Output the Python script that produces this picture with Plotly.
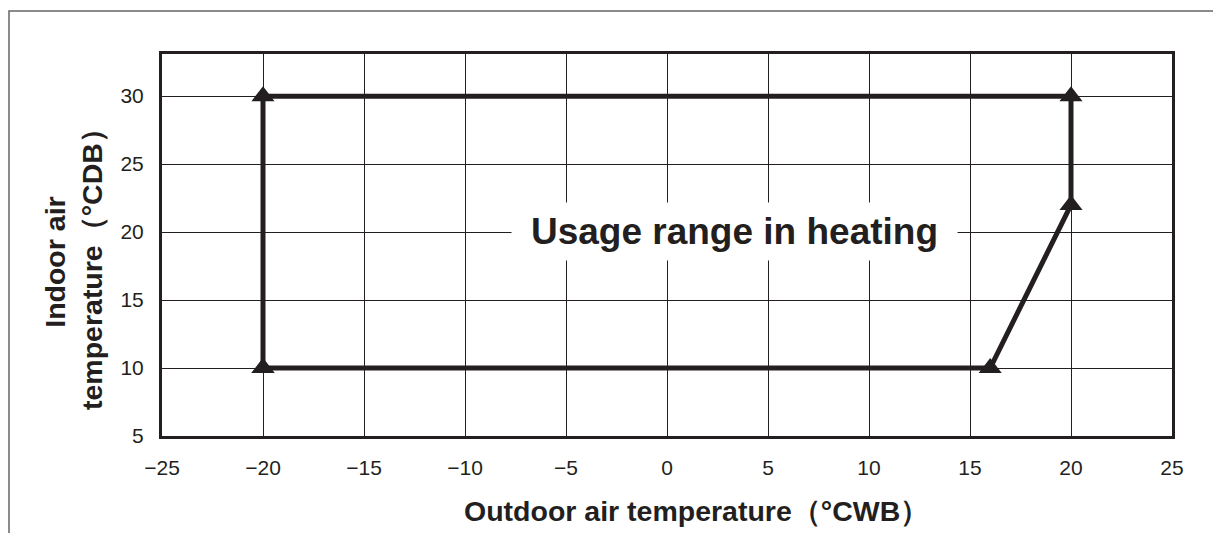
import plotly.graph_objects as go

# Operating envelope (heating) vertices, traced as a closed outline
outdoor_wb = [-20, -20, 20, 20, 16, -20]
indoor_db = [10, 30, 30, 22, 10, 10]

x_ticks = [-25, -20, -15, -10, -5, 0, 5, 10, 15, 20, 25]
y_ticks = [5, 10, 15, 20, 25, 30]

INK = "#231f20"
W, H = 1213, 533
L, R, T, B = 162, 41, 54, 97
FONT = "Liberation Sans, Arial, sans-serif"

fig = go.Figure()
fig.add_trace(go.Scatter(
    x=outdoor_wb, y=indoor_db,
    mode="lines+markers",
    line=dict(color=INK, width=5),
    marker=dict(symbol="triangle-up", size=20, color=INK),
    hoverinfo="skip", showlegend=False,
))

tick_font = dict(family=FONT, size=21, color=INK)
fig.update_xaxes(
    range=[-25, 25], tickvals=x_ticks, ticktext=[f"{v}".replace("-", "−") for v in x_ticks],
    showgrid=True, gridcolor=INK, gridwidth=1, zeroline=False,
    showline=True, linecolor=INK, linewidth=3, mirror=True,
    ticks="", tickfont=tick_font, ticklabelstandoff=11,
)
fig.update_yaxes(
    range=[5, 33.1], tickvals=y_ticks,
    showgrid=True, gridcolor=INK, gridwidth=1, zeroline=False,
    showline=True, linecolor=INK, linewidth=3, mirror=True,
    ticks="", tickfont=tick_font, ticklabelstandoff=11,
)

pw, ph = W - L - R, H - T - B
def px(xp):
    return (xp - L) / pw
def py(yp):
    return (H - B - yp) / ph

# Outer frame (left and top edges)
fig.add_shape(type="path", xref="paper", yref="paper",
              path=f"M {px(9)},{py(540)} L {px(9)},{py(11)} L {px(1220)},{py(11)}",
              line=dict(color="#666666", width=1.5))

title_font = dict(family=FONT, size=28.5, color=INK)
fig.add_annotation(text="<b>Outdoor air temperature（°CWB）</b>",
                   xref="paper", yref="paper", x=px(696), y=py(511),
                   showarrow=False, font=title_font, xanchor="center", yanchor="middle")
fig.add_annotation(text="<b>Indoor air<br>temperature（°CDB）</b>",
                   xref="paper", yref="paper", x=px(73), y=py(262),
                   showarrow=False, font=title_font, textangle=-90,
                   xanchor="center", yanchor="middle")

fig.add_annotation(text="<b>Usage range in heating</b>",
                   x=3.34, y=20.04, showarrow=False,
                   font=dict(family=FONT, size=37, color=INK),
                   bgcolor="white", borderpad=0, width=445, height=57)

fig.update_layout(
    width=W, height=H,
    margin=dict(l=L, r=R, t=T, b=B),
    paper_bgcolor="white", plot_bgcolor="white",
)

fig.write_html("out.html")
